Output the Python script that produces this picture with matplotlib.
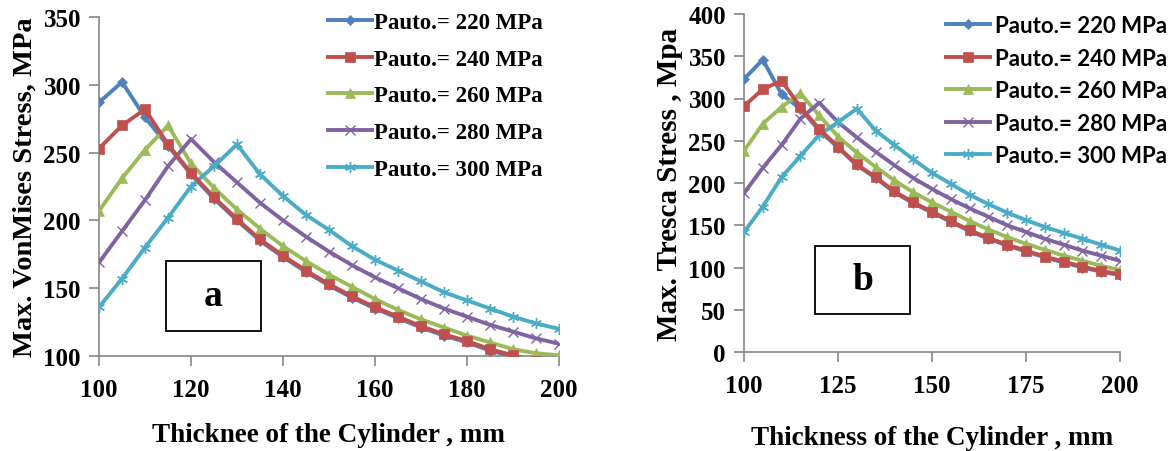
import matplotlib
matplotlib.use('Agg')
import matplotlib.pyplot as plt
from matplotlib.patches import Rectangle

thickness = [100, 105, 110, 115, 120, 125, 130, 135, 140, 145, 150,
             155, 160, 165, 170, 175, 180, 185, 190, 195, 200]
labels = ['Pauto.= 220 MPa', 'Pauto.= 240 MPa', 'Pauto.= 260 MPa',
          'Pauto.= 280 MPa', 'Pauto.= 300 MPa']

vm_220 = [287, 302, 276, 255, 234, 216, 200, 185, 173, 162, 152, 143, 135, 128, 121, 115, 110, 104, 99.5, 95, 91]
vm_240 = [253, 270, 282, 256, 235, 217, 201, 186, 174, 163, 153, 144, 136, 129, 122, 116, 111, 105, 100.5, 96, 92]
vm_260 = [207, 231, 252, 270, 242, 224, 208, 194, 181, 170, 160, 151, 142, 134, 127, 121, 115, 110, 105, 102, 100.5]
vm_280 = [169, 192, 215, 240, 260, 243, 228, 213, 200, 188, 177, 167, 158, 150, 142, 135, 129, 123, 118, 113, 109]
vm_300 = [136, 157, 180, 202, 225, 240, 256, 234, 218, 204, 193, 181, 171, 163, 155, 147, 141, 135, 129, 124, 120]

tr_220 = [323, 346, 305, 288, 262, 242, 221, 206, 189, 176, 165, 154, 143, 134, 126, 119, 112, 106, 100, 95, 91]
tr_240 = [291, 311, 321, 290, 264, 243, 222, 207, 190, 177, 166, 155, 144, 135, 127, 120, 113, 107, 101, 96, 92]
tr_260 = [238, 270, 290, 306, 280, 255, 236, 219, 203, 189, 177, 166, 155, 145, 136, 128, 121, 114, 108, 102, 97]
tr_280 = [188, 218, 245, 276, 295, 272, 254, 237, 221, 206, 193, 181, 170, 160, 150, 142, 134, 127, 120, 114, 108]
tr_300 = [142, 172, 207, 232, 257, 272, 288, 262, 245, 228, 212, 199, 186, 175, 165, 156, 148, 141, 134, 127, 120]

colors = ['#4F81BD', '#C0504D', '#9BBB59', '#8064A2', '#4BACC6']
markers = ['D', 's', '^', 'x', (6, 2, 0)]
msizes = [5.5, 7, 7, 7, 8]

serif = ['Liberation Serif', 'DejaVu Serif']
fig = plt.figure(figsize=(11.76, 4.52), dpi=100)

axL = fig.add_axes([99/1176, 1-357/452, 460/1176, 339/452])
axR = fig.add_axes([744/1176, 1-353/452, 376/1176, 338/452])

def style(ax):
    for s in ['top', 'right']:
        ax.spines[s].set_visible(False)
    for s in ['left', 'bottom']:
        ax.spines[s].set_color('#868686')
        ax.spines[s].set_linewidth(1.2)
    ax.tick_params(direction='out', length=7, width=1.2, color='#868686',
                   labelsize=18, pad=6)
    ax.tick_params(axis='x', pad=9)
    for lab in ax.get_xticklabels() + ax.get_yticklabels():
        lab.set_fontfamily(serif)
        lab.set_fontweight('bold')

for ax, series in [(axL, [vm_220, vm_240, vm_260, vm_280, vm_300]),
                   (axR, [tr_220, tr_240, tr_260, tr_280, tr_300])]:
    for i, ys in enumerate(series):
        ax.plot(thickness, ys, color=colors[i], lw=2.8, marker=markers[i],
                ms=msizes[i], mew=1.0 if i >= 3 else 0.5, mec=colors[i],
                label=labels[i], zorder=3 + (1 if i == 1 else 0))

axL.set_xlim(100, 200)
axL.set_ylim(100, 350)
axL.set_xticks([100, 120, 140, 160, 180, 200])
axL.set_yticks([100, 150, 200, 250, 300, 350])
style(axL)
axL.set_xlabel('Thicknee of the Cylinder , mm', fontfamily=serif,
               fontweight='bold', fontsize=19.5, labelpad=15)
axL.set_ylabel('Max. VonMises Stress, MPa', fontfamily=serif,
               fontweight='bold', fontsize=20.5, labelpad=4)

axR.set_xlim(100, 200)
axR.set_ylim(0, 400)
axR.set_xticks([100, 125, 150, 175, 200])
axR.set_yticks(list(range(0, 401, 50)))
style(axR)
axR.set_xlabel('Thickness of the Cylinder , mm', fontfamily=serif,
               fontweight='bold', fontsize=19.5, labelpad=20)
axR.set_ylabel('Max. Tresca Stress , Mpa', fontfamily=serif,
               fontweight='bold', fontsize=21, labelpad=4)

legL = axL.legend(loc='upper left', bbox_to_anchor=(328/1176, 1-13/452),
                  bbox_transform=fig.transFigure, frameon=False,
                  handlelength=1.9, handletextpad=0.1, labelspacing=0.68,
                  borderaxespad=0, borderpad=0,
                  prop={'family': serif, 'weight': 'bold', 'size': 16.5})
legR = axR.legend(loc='upper left', bbox_to_anchor=(946/1176, 1-16/452),
                  bbox_transform=fig.transFigure, frameon=False,
                  handlelength=2.0, handletextpad=0.2, labelspacing=0.52,
                  borderaxespad=0, borderpad=0,
                  prop={'family': ['Lato', 'DejaVu Sans'], 'weight': 'bold', 'size': 16})

# label boxes
for (x0, y0, x1, y1, t) in [(166, 262, 261, 332, 'a'), (815, 247, 910, 315, 'b')]:
    fig.patches.append(Rectangle((x0/1176, 1-y1/452), (x1-x0)/1176, (y1-y0)/452,
                                 transform=fig.transFigure, fill=True,
                                 facecolor='white', edgecolor='black', lw=1.3, zorder=5))
    fig.text((x0+x1)/2/1176, 1-(y0+y1)/2/452, t, ha='center', va='center',
             fontfamily=serif, fontweight='bold', fontsize=27, zorder=6)

fig.savefig('out.png', dpi=100)
